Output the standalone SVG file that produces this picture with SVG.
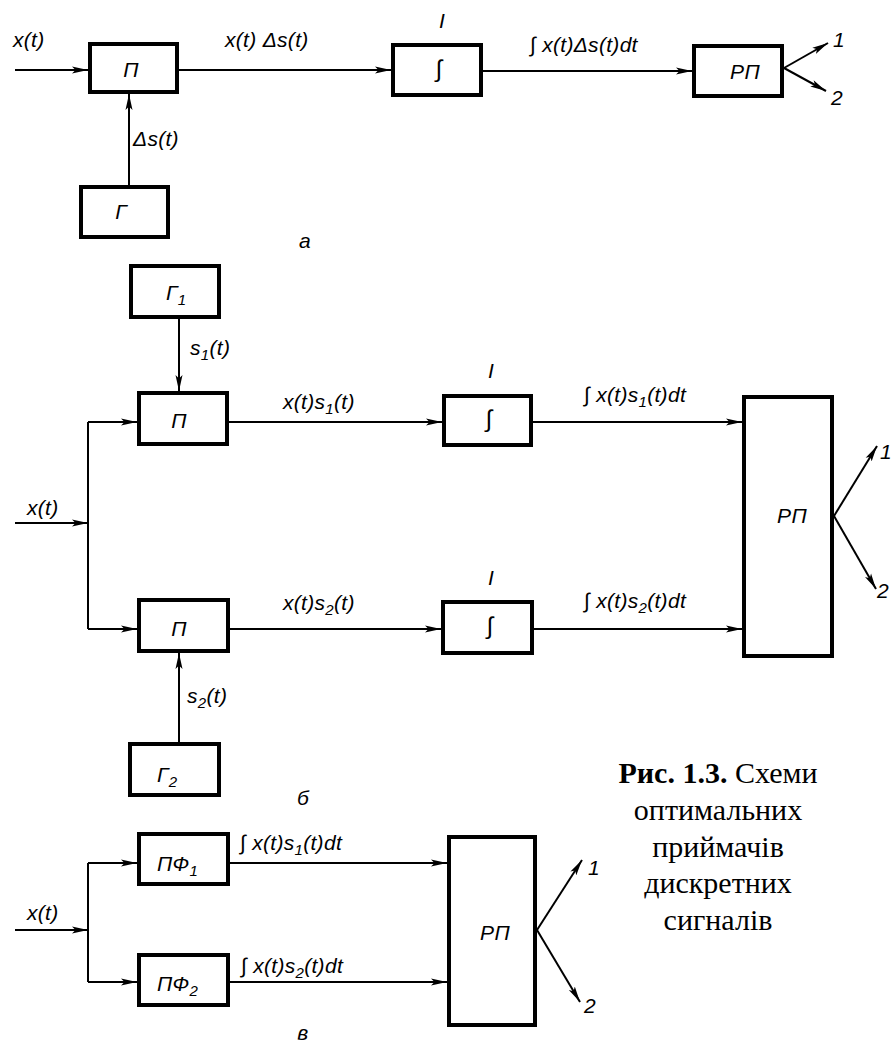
<svg xmlns="http://www.w3.org/2000/svg" width="891" height="1043" viewBox="0 0 891 1043">
<defs>
<style>
.box{fill:#fff;stroke:#000;stroke-width:4}
.ln{fill:none;stroke:#000;stroke-width:2}
.ar{marker-end:url(#ah)}
.t{font-family:"Liberation Sans",Arial,sans-serif;font-style:italic;font-size:21px;letter-spacing:0.3px;fill:#000}
.m{text-anchor:middle}
.sub{font-size:15px}
.int{font-family:"Liberation Sans",Arial,sans-serif;font-size:24px;fill:#000;text-anchor:middle}
.cap{font-family:"Liberation Serif","Times New Roman",serif;font-size:30px;fill:#000;text-anchor:middle}
</style>
<marker id="ah" viewBox="0 0 16 8" refX="16" refY="4" markerWidth="16" markerHeight="8" markerUnits="userSpaceOnUse" orient="auto">
<path d="M0,0.5 L16,4 L0,7.5 L3.5,4 Z" fill="#000"/>
</marker>
</defs>
<rect width="891" height="1043" fill="#fff"/>

<g id="connectors">
<path class="ln ar" d="M15,70 H88"/>
<path class="ln ar" d="M129,185 V94"/>
<path class="ln ar" d="M179,70 H391"/>
<path class="ln ar" d="M483,71 H692"/>
<path class="ln ar" d="M784,68 L828,43"/>
<path class="ln ar" d="M784,68 L826,91"/>

<path class="ln ar" d="M179,319 V391"/>
<path class="ln ar" d="M15,523 H88"/>
<path class="ln" d="M88,422 V629"/>
<path class="ln ar" d="M88,422 H137"/>
<path class="ln ar" d="M88,629 H137"/>
<path class="ln ar" d="M179,742 V653"/>
<path class="ln ar" d="M229,422 H442"/>
<path class="ln ar" d="M230,629 H441"/>
<path class="ln ar" d="M533,422 H742"/>
<path class="ln ar" d="M534,629 H742"/>
<path class="ln ar" d="M834,516 L877,446"/>
<path class="ln ar" d="M834,516 L876,589"/>

<path class="ln ar" d="M15,930 H88"/>
<path class="ln" d="M88,863 V982"/>
<path class="ln ar" d="M88,863 H137"/>
<path class="ln ar" d="M88,982 H137"/>
<path class="ln ar" d="M230,863 H447"/>
<path class="ln ar" d="M230,982 H447"/>
<path class="ln ar" d="M537,930 L582,860"/>
<path class="ln ar" d="M537,930 L580,1002"/>
</g>

<g id="labels">
<text class="t" x="13" y="47">x(t)</text>
<text class="t" x="225" y="47">x(t) Δs(t)</text>
<text class="t" x="133" y="146">Δs(t)</text>
<text class="t" x="439" y="28">I</text>
<text class="t" x="530" y="52"><tspan font-style="normal">∫</tspan> x(t)Δs(t)dt</text>
<text class="t" x="833" y="47">1</text>
<text class="t" x="831" y="105">2</text>
<text class="t m" x="305" y="248">а</text>

<text class="t" x="190" y="355">s<tspan class="sub" dy="5">1</tspan><tspan dy="-5">(t)</tspan></text>
<text class="t" x="27" y="515">x(t)</text>
<text class="t" x="283" y="409">x(t)s<tspan class="sub" dy="5">1</tspan><tspan dy="-5">(t)</tspan></text>
<text class="t" x="283" y="610">x(t)s<tspan class="sub" dy="5">2</tspan><tspan dy="-5">(t)</tspan></text>
<text class="t" x="187" y="703">s<tspan class="sub" dy="5">2</tspan><tspan dy="-5">(t)</tspan></text>
<text class="t" x="488" y="378">I</text>
<text class="t" x="488" y="585">I</text>
<text class="t" x="584" y="402"><tspan font-style="normal">∫</tspan> x(t)s<tspan class="sub" dy="5">1</tspan><tspan dy="-5">(t)dt</tspan></text>
<text class="t" x="584" y="608"><tspan font-style="normal">∫</tspan> x(t)s<tspan class="sub" dy="5">2</tspan><tspan dy="-5">(t)dt</tspan></text>
<text class="t" x="880" y="459">1</text>
<text class="t" x="877" y="598">2</text>
<text class="t m" x="303" y="805">б</text>

<text class="t" x="27" y="920">x(t)</text>
<text class="t" x="240" y="850"><tspan font-style="normal">∫</tspan> x(t)s<tspan class="sub" dy="5">1</tspan><tspan dy="-5">(t)dt</tspan></text>
<text class="t" x="241" y="973"><tspan font-style="normal">∫</tspan> x(t)s<tspan class="sub" dy="5">2</tspan><tspan dy="-5">(t)dt</tspan></text>
<text class="t" x="588" y="875">1</text>
<text class="t" x="584" y="1013">2</text>
<text class="t m" x="303" y="1040">в</text>
</g>

<g id="node-a-P">
<rect class="box" x="90" y="44" width="87" height="48"/>
<text class="t m" x="131" y="77">П</text>
</g>
<g id="node-a-G">
<rect class="box" x="81" y="187" width="87" height="50"/>
<text class="t m" x="121" y="219" font-size="25">Г</text>
</g>
<g id="node-a-I">
<rect class="box" x="393" y="45" width="88" height="50"/>
<text class="int" x="439" y="77">∫</text>
</g>
<g id="node-a-RP">
<rect class="box" x="694" y="46" width="88" height="50"/>
<text class="t m" x="745" y="79" font-size="22">РП</text>
</g>

<g id="node-b-G1">
<rect class="box" x="131" y="266" width="88" height="51"/>
<text class="t" x="166" y="300" font-size="24">Г<tspan class="sub" font-size="16" dy="5">1</tspan></text>
</g>
<g id="node-b-P1">
<rect class="box" x="139" y="393" width="88" height="51"/>
<text class="t m" x="179" y="428">П</text>
</g>
<g id="node-b-P2">
<rect class="box" x="139" y="600" width="89" height="51"/>
<text class="t m" x="179" y="636">П</text>
</g>
<g id="node-b-G2">
<rect class="box" x="130" y="744" width="89" height="51"/>
<text class="t" x="157" y="782" font-size="24">Г<tspan class="sub" font-size="16" dy="5">2</tspan></text>
</g>
<g id="node-b-I1">
<rect class="box" x="444" y="396" width="87" height="49"/>
<text class="int" x="489" y="427">∫</text>
</g>
<g id="node-b-I2">
<rect class="box" x="443" y="602" width="89" height="51"/>
<text class="int" x="490" y="634">∫</text>
</g>
<g id="node-b-RP">
<rect class="box" x="744" y="397" width="88" height="259"/>
<text class="t m" x="792" y="523">РП</text>
</g>

<g id="node-c-PF1">
<rect class="box" x="139" y="834" width="89" height="50"/>
<text class="t" x="157" y="871" font-size="22">ПФ<tspan class="sub" font-size="16" dy="5">1</tspan></text>
</g>
<g id="node-c-PF2">
<rect class="box" x="139" y="955" width="89" height="50"/>
<text class="t" x="157" y="991" font-size="22">ПФ<tspan class="sub" font-size="16" dy="5">2</tspan></text>
</g>
<g id="node-c-RP">
<rect class="box" x="449" y="837" width="86" height="188"/>
<text class="t m" x="495" y="940">РП</text>
</g>

<g id="caption">
<text class="cap" x="718" y="783"><tspan font-weight="bold">Рис. 1.3.</tspan> Схеми</text>
<text class="cap" x="718" y="820">оптимальних</text>
<text class="cap" x="718" y="857">приймачів</text>
<text class="cap" x="718" y="893">дискретних</text>
<text class="cap" x="718" y="930">сигналів</text>
</g>
</svg>
